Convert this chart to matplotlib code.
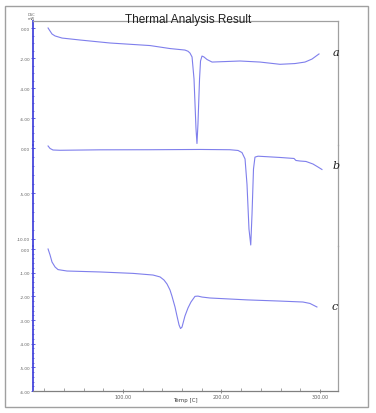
import matplotlib
matplotlib.use("Agg")
import matplotlib.pyplot as plt
from matplotlib.patches import Rectangle
from matplotlib.ticker import MultipleLocator, FormatStrFormatter
from matplotlib.lines import Line2D

# ---- data ----
temp_a = [23.9, 25.9, 27.9, 31.0, 38.1, 56.3, 86.8, 127.4, 147.7, 162.9, 166.0, 168.0,
          170.1, 172.1, 174.1, 175.1, 176.1, 177.7, 178.7, 180.2, 182.2, 185.3, 190.4,
          198.5, 218.8, 239.1, 259.4, 274.6, 284.8, 291.9, 299.0]
dsc_a = [0.0, -0.2, -0.4, -0.53, -0.67, -0.8, -1.0, -1.17, -1.37, -1.47, -1.55, -1.67,
         -1.93, -3.4, -6.7, -7.7, -6.4, -3.4, -2.2, -1.87, -1.93, -2.1, -2.27,
         -2.25, -2.2, -2.27, -2.42, -2.37, -2.27, -2.07, -1.73]

temp_b = [23.9, 25.9, 28.9, 36.0, 76.6, 127.4, 178.2, 208.6, 216.8, 220.8, 223.9, 225.9,
          227.9, 229.7, 231.0, 232.5, 234.0, 237.1, 259.4, 273.6, 275.6, 279.7, 285.8,
          292.9, 298.0, 302.0]
dsc_b = [0.22, -0.05, -0.22, -0.25, -0.2, -0.19, -0.16, -0.19, -0.27, -0.5, -1.2, -4.0,
         -8.9, -10.66, -7.25, -2.3, -1.0, -0.9, -1.04, -1.15, -1.37, -1.43, -1.48,
         -1.76, -2.09, -2.36]

temp_c = [23.9, 25.9, 27.9, 31.0, 34.0, 43.1, 76.6, 110.2, 130.5, 137.6, 141.6, 144.7,
          147.7, 149.7, 152.8, 154.8, 156.9, 158.4, 159.9, 162.9, 166.0, 169.0, 173.1,
          176.1, 180.2, 188.3, 225.9, 259.4, 282.7, 289.8, 296.9]
dsc_c = [0.0, -0.25, -0.55, -0.76, -0.87, -0.93, -0.97, -1.03, -1.1, -1.18, -1.31, -1.48,
         -1.73, -1.99, -2.45, -2.83, -3.21, -3.36, -3.3, -2.83, -2.49, -2.24, -2.0,
         -1.99, -2.03, -2.07, -2.15, -2.2, -2.24, -2.3, -2.45]

panel_labels = ["a", "b", "c"]
title = "Thermal Analysis Result"
x_label = "Temp [C]"
y_unit = "DSC\nmW"
x_ticks = [100, 200, 300]

# ---- figure ----
W, H = 376, 414
fig = plt.figure(figsize=(W / 100, H / 100), dpi=100)

def fx(px):
    return px / W

def fy(py):
    return 1 - py / H

CURVE = "#7f7fec"
AXBLUE = "#4646dc"
FRAME = "#a0a0a0"
TXT = "#606060"

# outer border
fig.add_artist(Rectangle((fx(5), fy(408)), fx(368) - fx(5), fy(7) - fy(408),
                         transform=fig.transFigure, fill=False, ec=FRAME, lw=1.0))

xlim = (8.6, 318.3)
panels = [
    # (top px, bottom px, ylim, major, minor, temps, values)
    (22, 146, (-7.8, 0.467), 2, 0.5, temp_a, dsc_a),
    (146, 247, (-10.77, 0.33), 5, 1, temp_b, dsc_b),
    (247, 392, (-6.0, 0.127), 1, 0.2, temp_c, dsc_c),
]

axes = []
for i, (top, bot, yl, maj, mnr, tx, vy) in enumerate(panels):
    ax = fig.add_axes([fx(33), fy(bot), fx(338) - fx(33), fy(top) - fy(bot)])
    ax.set_xlim(*xlim)
    ax.set_ylim(*yl)
    ax.plot(tx, vy, color=CURVE, lw=0.8)
    ax.patch.set_alpha(0)
    for s in ["top", "bottom", "right", "left"]:
        ax.spines[s].set_visible(False)
    ax.spines["left"].set_visible(True)
    ax.spines["left"].set_color(AXBLUE)
    ax.spines["left"].set_linewidth(1.3)
    ax.spines["right"].set_visible(True)
    ax.spines["right"].set_color(FRAME)
    ax.spines["right"].set_linewidth(0.9)
    if i == 0:
        ax.spines["top"].set_visible(True)
        ax.spines["top"].set_color(FRAME)
        ax.spines["top"].set_linewidth(0.9)
    ax.yaxis.set_major_locator(MultipleLocator(maj))
    ax.yaxis.set_minor_locator(MultipleLocator(mnr))
    ax.yaxis.set_major_formatter(FormatStrFormatter("%.2f"))
    ax.tick_params(axis="y", which="major", direction="inout", length=3, width=0.6,
                   color=AXBLUE, labelsize=3, labelcolor=TXT, pad=0.5)
    ax.tick_params(axis="y", which="minor", direction="inout", length=1.6, width=0.5,
                   color=AXBLUE)
    if i < 2:
        ax.set_xticks([])
    else:
        ax.spines["bottom"].set_visible(True)
        ax.spines["bottom"].set_color("#808080")
        ax.spines["bottom"].set_linewidth(0.9)
        ax.set_xticks(x_ticks)
        ax.set_xticklabels(["%.2f" % t for t in x_ticks])
        ax.xaxis.set_minor_locator(MultipleLocator(20))
        ax.tick_params(axis="x", which="major", direction="inout", length=3, width=0.6,
                       color="#808080", labelsize=3.5, labelcolor=TXT, pad=0.8)
        ax.tick_params(axis="x", which="minor", direction="in", length=2, width=0.5,
                       color="#808080")
    axes.append(ax)

# title, units, axis label
fig.text(fx(188), fy(23), title, ha="center", va="baseline", fontsize=8.5,
         family="Liberation Sans", color="#202020")
fig.text(fx(31), fy(17), y_unit, ha="center", va="center", fontsize=2.6,
         color=TXT, linespacing=0.9)
fig.text(fx(185), fy(401), x_label, ha="center", va="center", fontsize=4,
         color="#404040")

# handwritten panel labels
label_pos = [(336, 53), (336, 166), (335, 307)]
for lab, (px, py) in zip(panel_labels, label_pos):
    fig.text(fx(px), fy(py), lab, ha="center", va="center", fontsize=8,
             family="DejaVu Serif", style="italic", color="#202020")

fig.savefig("out.png", dpi=100)
